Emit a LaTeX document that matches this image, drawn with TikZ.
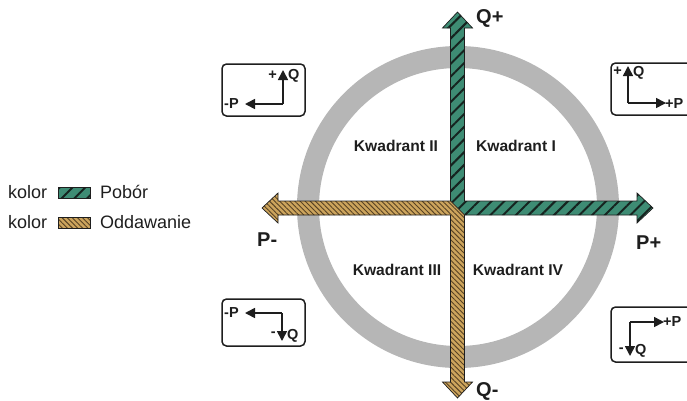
\documentclass[tikz,border=0pt]{standalone}
\usepackage{fontspec}
\setmainfont{Liberation Sans}
\usetikzlibrary{patterns.meta,arrows.meta}

\definecolor{ringgray}{RGB}{182,182,182}
\definecolor{pobor}{RGB}{62,140,116}
\definecolor{poborline}{RGB}{22,36,32}
\definecolor{oddaw}{RGB}{204,164,92}
\definecolor{oddawline}{RGB}{88,66,36}
\definecolor{ink}{RGB}{30,30,30}

\begin{document}
\begin{tikzpicture}[x=1pt,y=-1pt,
  quad/.style={font=\fontsize{15.6}{18}\selectfont\bfseries, text=ink},
  axislbl/.style={font=\fontsize{20}{22}\selectfont\bfseries, text=ink, inner sep=0pt},
  small/.style={font=\fontsize{14.5}{16}\selectfont\bfseries, text=ink, inner sep=0pt},
  legend/.style={font=\fontsize{18}{20}\selectfont, text=ink, anchor=west, inner sep=0pt},
  frame/.style={draw=ink, line width=1.5pt, rounded corners=4.5pt, fill=white},
  vec/.style={draw=ink, line width=1.6pt, -{Triangle[length=10pt,width=10pt]}},
  greenfill/.style={preaction={fill=pobor},
    pattern={Lines[angle=45,distance=9pt,line width=2pt]}, pattern color=poborline,
    draw=ink, line width=0.7pt},
  brownfill/.style={preaction={fill=oddaw},
    pattern={Lines[angle=-45,distance=3.6pt,line width=0.9pt]}, pattern color=oddawline,
    draw=ink, line width=0.7pt}
]
\useasboundingbox (0,0) rectangle (687,400);

% gray ring behind the axes
\draw[ringgray, line width=22pt] (458,207) circle [radius=150];

% consumption arrows: Q+ and P+
\path[greenfill]
  (450.5,201) -- (450.5,28) -- (442.5,28) -- (457.5,12) -- (472.5,28) -- (464.5,28)
  -- (464.5,201) -- (637,201) -- (637,193) -- (653,208) -- (637,223)
  -- (637,215) -- (464.5,215) -- cycle;

% delivery arrows: P- and Q-
\path[brownfill]
  (450.5,201) -- (278,201) -- (278,193) -- (262,208) -- (278,223)
  -- (278,215) -- (450.5,215) -- (450.5,382) -- (442.5,382) -- (457.5,398)
  -- (472.5,382) -- (464.5,382) -- (464.5,215) -- cycle;

% axis labels
\node[axislbl, anchor=west] (qplus) at (476,18) {Q+};
\node[axislbl, anchor=west] (pplus) at (636,243) {P+};
\node[axislbl, anchor=west] (pminus) at (257,240) {P-};
\node[axislbl, anchor=west] (qminus) at (476,391) {Q-};

% quadrant names
\node[quad] (k2) at (396,146) {Kwadrant II};
\node[quad] (k1) at (516,146) {Kwadrant I};
\node[quad] (k3) at (397,270) {Kwadrant III};
\node[quad] (k4) at (518,270) {Kwadrant IV};

% quadrant II sketch
\draw[frame] (222,64) rectangle (305,116);
\coordinate (c2) at (283,104);
\coordinate (c2q) at (283,70);
\coordinate (c2p) at (245,104);
\draw[vec] (c2) -- (c2q);
\draw[vec] (c2) -- (c2p);
\node[small, anchor=east] (l2q0) at (277,75) {+};
\node[small, anchor=west] (l2q) at (288,76) {Q};
\node[small, anchor=west] (l2p) at (224,104) {-P};

% quadrant I sketch
\draw[frame] (611,63) rectangle (693,115);
\coordinate (c1) at (628,103);
\coordinate (c1q) at (628,66);
\coordinate (c1p) at (666,103);
\draw[vec] (c1) -- (c1q);
\draw[vec] (c1) -- (c1p);
\node[small, anchor=east] (l1q0) at (622,71) {+};
\node[small, anchor=west] (l1q) at (633,73) {Q};
\node[small, anchor=west] (l1p) at (665,104) {+P};

% quadrant III sketch
\draw[frame] (222,299) rectangle (305,346);
\coordinate (c3) at (282,313);
\coordinate (c3p) at (245,313);
\coordinate (c3q) at (282,341);
\draw[vec] (c3) -- (c3p);
\draw[vec] (c3) -- (c3q);
\node[small, anchor=west] (l3p) at (224,313) {-P};
\node[small, anchor=east] (l3q0) at (276,334) {-};
\node[small, anchor=west] (l3q) at (287,336) {Q};

% quadrant IV sketch
\draw[frame] (611,307) rectangle (693,362);
\coordinate (c4) at (630,322);
\coordinate (c4p) at (664,322);
\coordinate (c4q) at (630,356);
\draw[vec] (c4) -- (c4p);
\draw[vec] (c4) -- (c4q);
\node[small, anchor=west] (l4p) at (663,322) {+P};
\node[small, anchor=east] (l4q0) at (624,350) {-};
\node[small, anchor=west] (l4q) at (635,351) {Q};

% legend
\node[legend] (lk1) at (8,192) {kolor};
\path[greenfill, line width=0.9pt] (58,187) rectangle (90,198);
\node[legend] (lp) at (100,192) {Pobór};
\node[legend] (lk2) at (8,222) {kolor};
\path[brownfill, line width=0.9pt] (58,217) rectangle (90,228);
\node[legend] (lo) at (100,222) {Oddawanie};
\end{tikzpicture}
\end{document}
